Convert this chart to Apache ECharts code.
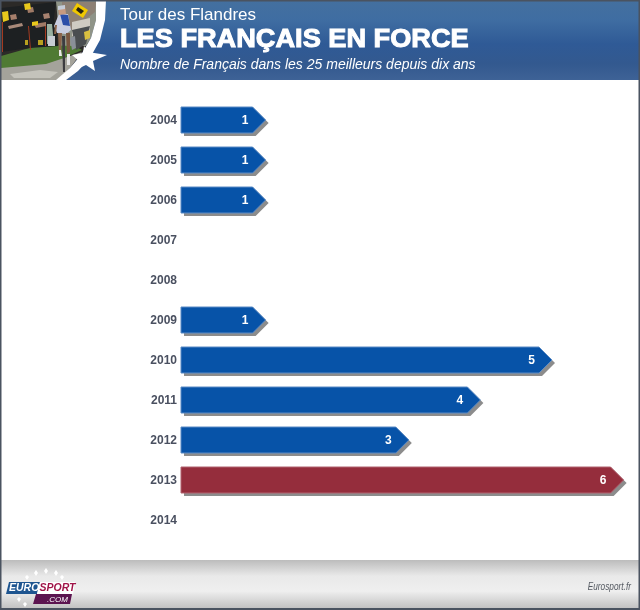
<!DOCTYPE html>
<html>
<head>
<meta charset="utf-8">
<title>Tour des Flandres</title>
<style>
html,body{margin:0;padding:0;background:#fff;}
#chart{width:640px;height:610px;}
</style>
<script src="https://cdn.jsdelivr.net/npm/echarts@6/dist/echarts.min.js"></script>
</head>
<body>
<div id="chart"></div>
<script>
var years = ['2004','2005','2006','2007','2008','2009','2010','2011','2012','2013','2014'];
var riders = [1,1,1,0,0,1,5,4,3,6,0];
var highlightYear = '2013';

var FONT = '"Liberation Sans",Arial,sans-serif';
var BLUE = '#0753a8', RED = '#952d3c', SHADOW = '#8c8c8c';
var HEAD = 13;		//arrow head width, px

var chart = echarts.init(document.getElementById('chart'));

//rect helper for the page decoration
function box(x,y,w,h,fill,z){
	return {type:'rect',shape:{x:x,y:y,width:w,height:h},style:{fill:fill},z:z||0,silent:true};
}
function vgrad(stops){
	return new echarts.graphic.LinearGradient(0,0,0,1,stops.map(function(s){return {offset:s[0],color:s[1]};}));
}
function poly(points,fill,z){
	return {type:'polygon',shape:{points:points},style:{fill:fill},z:z||1,silent:true};
}
function label(x,y,text,font,fill,extra,scaleX){
	return {type:'text',x:x,y:y,z:8,scaleX:scaleX||1,silent:true,style:Object.assign({text:text,font:font,fill:fill,textVerticalAlign:'middle'},extra||{})};
}

//header, photo and footer are only drawn shapes
var decoration = [
	//header band
	box(0,0,640,80,vgrad([[0,'#44709f'],[0.25,'#3f6da2'],[0.55,'#2f5a96'],[0.8,'#33598f'],[1,'#3e6296']])),
	//photo base, cut along the swoosh
	poly([[1,1],[97,1],[96,20],[91,38],[81,55],[70,68],[58,80],[1,80]],'#2c2a28',1),
	poly([[56,1],[97,1],[96,20],[91,38],[86,46],[60,46]],'#8f9488',1),
	poly([[62,2],[96,2],[95,12],[72,30],[62,24]],'#8d8074',1),
	poly([[72,22],[90,18],[90,34],[72,36]],'#cfcbc2',1),
	poly([[1,56],[40,45],[75,46],[82,50],[46,66],[1,70]],'#4f7a33',2),
	poly([[1,68],[46,64],[82,52],[70,68],[58,80],[1,80]],'#a4a39b',2),
	poly([[10,74],[40,70],[58,72],[50,78],[14,78]],'#c4c3bb',2),
	//crowd
	poly([[1,8],[56,2],[54,18],[58,46],[30,48],[1,52]],'#1d2022',2),
	poly([[10,15],[16,14],[17,19],[11,20]],'#a67f6c',3),
	poly([[27,8],[33,7],[34,12],[28,13]],'#a07a66',3),
	poly([[43,14],[49,13],[50,18],[44,19]],'#a88270',3),
	poly([[8,26],[22,23],[23,26],[9,29]],'#a98a7a',3),
	poly([[34,24],[46,22],[46,26],[36,28]],'#a07a66',3),
	poly([[47,24],[52,24],[54,44],[47,44]],'#9ab0a0',3),
	poly([[48,36],[55,36],[55,46],[48,46]],'#c8ccd4',3),
	poly([[2,12],[8,11],[9,20],[3,22]],'#e8c81c',3),
	poly([[24,4],[30,3],[31,9],[25,10]],'#e8c81c',3),
	poly([[32,22],[38,21],[38,25],[32,26]],'#e8c81c',3),
	poly([[25,40],[28,40],[28,45],[25,45]],'#b8a020',3),
	poly([[38,40],[43,40],[43,45],[38,45]],'#b8a020',3),
	poly([[2,22],[3,22],[3,52],[2,52]],'#a33a20',3),
	poly([[28,26],[29,26],[31,50],[30,50]],'#a33a20',3),
	poly([[45,26],[46,26],[46,46],[45,46]],'#a33a20',3),
	//flag
	poly([[77,3],[88,10],[83,18],[72,11]],'#f0c800',4),
	poly([[78,7],[84,11],[81,14],[76,10]],'#2a2410',4),
	//spectators right
	poly([[72,30],[90,26],[86,44],[76,50]],'#4a4e50',3),
	poly([[84,32],[90,30],[90,38],[85,40]],'#d8c040',4),
	poly([[70,38],[75,36],[76,48],[72,50]],'#8a9098',3),
	//rider
	poly([[59,14],[68,14],[71,30],[66,34],[57,33],[54,26]],'#c9cde0',5),
	poly([[60,14],[68,15],[70,26],[63,25]],'#2c4ea8',5),
	poly([[58,7],[65,6],[66,14],[59,15]],'#c89a80',5),
	poly([[58,6],[65,5],[65,9],[58,10]],'#c4ccd8',5),
	poly([[58,33],[62,33],[61,54],[59,55]],'#8a6248',5),
	poly([[66,33],[70,33],[70,52],[67,54]],'#7a5640',5),
	poly([[59,50],[61,50],[62,56],[59,56]],'#e8e8e8',5),
	poly([[67,54],[70,54],[70,65],[67,65]],'#e8e8e8',5),
	poly([[62,36],[65,36],[65,72],[63,72]],'#3c3c40',5),
	poly([[55,25],[57,25],[56,34],[54,34]],'#8a6248',5),
	//white swoosh and star
	poly([[96,0],[106,0],[105,20],[100,40],[90,58],[78,71],[66,80],[56,80],[70,68],[81,55],[91,38],[96,20]],'#ffffff',6),
	poly([[84,46],[88,52],[107,55],[93,61],[95,71],[86,65],[75,70],[79,61],[72,55],[83,53]],'#ffffff',6),
	//footer
	box(0,560,640,50,vgrad([[0,'#bcbcbc'],[0.32,'#e9e9e9'],[0.62,'#efefef'],[1,'#bdbdbd']]),1),
	//logo stars
	poly([[46,568],[48,571],[46,574],[44,571]],'#ffffff',2),
	poly([[36,570],[38,573],[36,576],[34,573]],'#ffffff',2),
	poly([[56,570],[58,573],[56,576],[54,573]],'#ffffff',2),
	poly([[27,575],[29,577],[27,580],[25,577]],'#ffffff',2),
	poly([[62,575],[64,577],[62,580],[60,577]],'#ffffff',2),
	poly([[19,597],[21,599],[19,602],[17,599]],'#ffffff',2),
	poly([[25,602],[27,604],[25,607],[23,604]],'#ffffff',2),
	//logo plates
	poly([[9,582],[40,582],[37,594],[6,594]],'#1e5590',3),
	poly([[40,582],[75,582],[73,594],[37,594]],'#ffffff',3),
	poly([[36,594],[72,594],[70,604],[33,604]],'#5c1450',3),
	label(9,588.5,'EURO','italic bold 10.5px '+FONT,'#ffffff'),
	label(39.5,588.5,'SPORT','italic bold 10.5px '+FONT,'#a01448'),
	label(47,599.5,'.COM','italic 8px '+FONT,'#ffffff'),
	//page border
	box(0,0,640,1.5,'#4a5360',7),
	box(0,0,1.5,610,'#4a5360',7),
	box(638.5,0,1.5,610,'#4a5360',7),
	box(0,608,640,2,'#4a5360',7),
	//texts
	label(120,15.5,'Tour des Flandres','17px '+FONT,'#ffffff'),
	{type:'text',x:120,y:39.5,z:8,scaleX:1.045,silent:true,style:{text:'LES FRANÇAIS EN FORCE',font:'bold 26px '+FONT,fill:'#ffffff',stroke:'#ffffff',lineWidth:1,textVerticalAlign:'middle'}},
	label(120,65.5,'Nombre de Français dans les 25 meilleurs depuis dix ans','italic 14px '+FONT,'#ffffff'),
	label(631,587.5,'Eurosport.fr','italic 10px '+FONT,'#555a62',{textAlign:'right'},0.83)
];

//arrow shaped bar with its grey offset shadow
function renderArrow(params,api){
	var value = api.value(1);
	if(!value){
		return;
	}
	var start = api.coord([0,api.value(0)]);
	var end = api.coord([value,api.value(0)]);
	var half = 13;
	var pts = function(off){
		return [
			[start[0]+off,start[1]-half+off],
			[end[0]+off,end[1]-half+off],
			[end[0]+HEAD+off,end[1]+off],
			[end[0]+off,end[1]+half+off],
			[start[0]+off,start[1]+half+off]
		];
	};
	var isHot = years[params.dataIndex] === highlightYear;
	return {
		type:'group',
		children:[
			{type:'polygon',shape:{points:pts(3)},style:{fill:SHADOW}},
			{type:'polygon',shape:{points:pts(0)},style:{fill:isHot?RED:BLUE,stroke:isHot?'#b0626e':'#5a8ac4',lineWidth:1}},
			{type:'text',x:end[0]-7.5,y:end[1]+1,style:{text:String(value),font:'bold 12px '+FONT,fill:'#fff',textAlign:'center',textVerticalAlign:'middle'}}
		]
	};
}

chart.setOption({
	animation:false,
	backgroundColor:'#ffffff',
	graphic:{elements:decoration},
	grid:{left:181,top:100,width:429.6,height:440,containLabel:false},
	xAxis:{
		type:'value',
		min:0,
		max:6,
		show:false
	},
	yAxis:{
		type:'category',
		data:years,
		inverse:true,
		axisLine:{show:false},
		axisTick:{show:false},
		splitLine:{show:false},
		axisLabel:{
			margin:4,
			formatter:'{yr|{value}}',
			rich:{
				yr:{
					padding:[2,0,0,0],
					color:'#4a5060',
					fontFamily:FONT,
					fontWeight:'bold',
					fontSize:12
				}
			}
		}
	},
	series:[{
		type:'custom',
		coordinateSystem:'cartesian2d',
		encode:{x:1,y:0},
		clip:false,
		z:3,
		data:years.map(function(y,i){return [y,riders[i]];}),
		renderItem:renderArrow
	}]
});
</script>
</body>
</html>
